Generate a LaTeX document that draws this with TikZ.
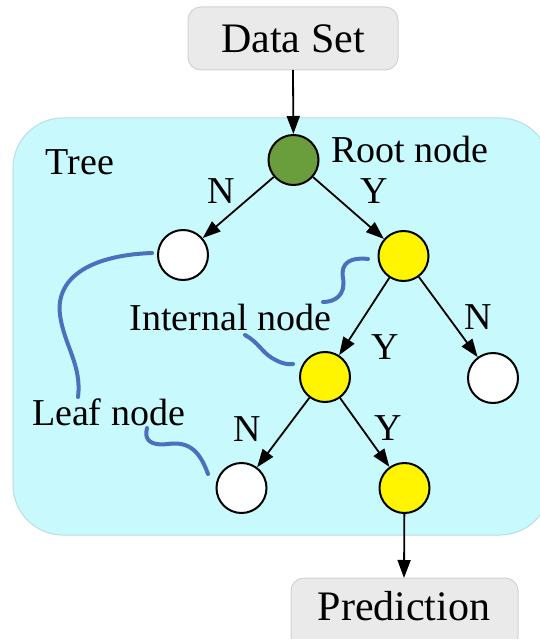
\documentclass[tikz,border=0pt]{standalone}
\usepackage{fontspec}
\setmainfont{Liberation Serif}
\usetikzlibrary{arrows.meta}
\definecolor{treebg}{HTML}{C8FAFD}
\definecolor{treeedge}{HTML}{B8DDE2}
\definecolor{boxbg}{HTML}{EAEAEA}
\definecolor{boxedge}{HTML}{D2D2D2}
\definecolor{rootgreen}{HTML}{6A9E3C}
\definecolor{nodeyellow}{HTML}{FFF500}
\definecolor{pointer}{HTML}{4A70BE}
\begin{document}
\begin{tikzpicture}[x=1pt,y=-1pt,
  every node/.style={font=\fontsize{38}{40}\selectfont, inner sep=0pt},
  io/.style={draw=boxedge, fill=boxbg, rounded corners=13pt, line width=1pt},
  vertex/.style={circle, draw=black, line width=2pt, minimum size=50pt},
  rootv/.style={vertex, fill=rootgreen},
  innerv/.style={vertex, fill=nodeyellow},
  leafv/.style={vertex, fill=white},
  link/.style={line width=1.8pt, -{Triangle[length=18pt,width=13pt]}},
  callout/.style={draw=pointer, line width=4pt, line cap=round}
]
\useasboundingbox (0,0) rectangle (539,639);

% tree panel
\draw[fill=treebg, draw=treeedge, line width=1pt, rounded corners=50pt]
  (13,118) rectangle (550,535);
\node[anchor=base] (treelbl) at (80,175) {Tree};

% input and output boxes
\path[io] (188,7) rectangle (398,70);
\node (data) at (293,38.5) {\fontsize{42}{44}\selectfont Data Set};
\coordinate (datab) at (293,70);
\path[io] (291,578) rectangle (518,650);
\node (pred) at (404,606) {\fontsize{42}{44}\selectfont Prediction};
\coordinate (predt) at (404,578);

% tree vertices
\node[rootv]  (root) at (293.5,160) {};
\node[leafv]  (l1)   at (183,255) {};
\node[innerv] (i1)   at (403.5,256) {};
\node[innerv] (i2)   at (325,377) {};
\node[leafv]  (l2)   at (493,378) {};
\node[leafv]  (l3)   at (241.5,488) {};
\node[innerv] (i3)   at (404.5,488) {};

% connectors
\draw[link] (datab) -- (root);
\draw[link] (root) -- (l1);
\draw[link] (root) -- (i1);
\draw[link] (i1) -- (i2);
\draw[link] (i1) -- (l2);
\draw[link] (i2) -- (l3);
\draw[link] (i2) -- (i3);
\draw[link] (i3) -- (predt);

% branch labels
\node[anchor=base] (e1) at (221,203) {N};
\node[anchor=base] (e2) at (374,203) {Y};
\node[anchor=base] (e3) at (385,359) {Y};
\node[anchor=base] (e4) at (478,329) {N};
\node[anchor=base] (e5) at (247,441) {N};
\node[anchor=base] (e6) at (388,440) {Y};

% descriptive labels
\node[anchor=base west] (rootlbl) at (331,163) {Root node};
\node[anchor=base] (intlbl) at (230.5,330) {Internal node};
\node[anchor=base] (leaflbl) at (108.5,425) {Leaf node};

% pointer strokes
\draw[callout] (152,253) .. controls (95,255) and (55,275) .. (60,315)
  .. controls (64,345) and (82,365) .. (78,397);
\draw[callout] (368,259) .. controls (352,257) and (340,262) .. (343,278)
  .. controls (346,295) and (335,302) .. (323,302);
\draw[callout] (245,335) .. controls (258,342) and (262,352) .. (272,358)
  .. controls (280,363) and (288,365) .. (293,364);
\draw[callout] (147,428) .. controls (144,440) and (150,446) .. (168,444)
  .. controls (190,441) and (200,452) .. (208,474);
\end{tikzpicture}
\end{document}
